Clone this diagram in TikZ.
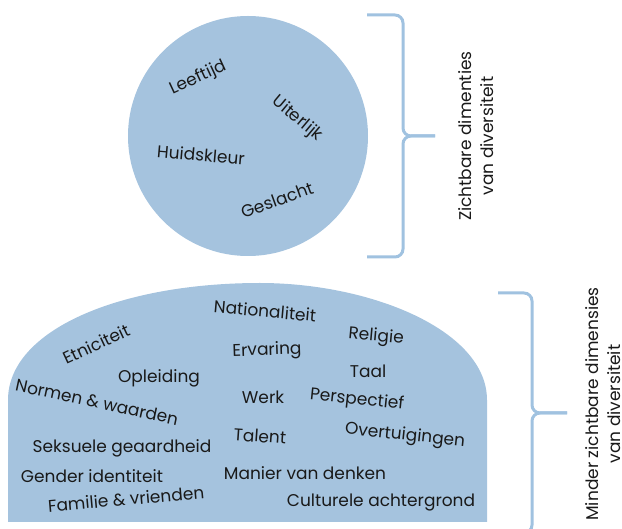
\documentclass[tikz,border=0pt]{standalone}
\usepackage{fontspec}
\setmainfont{Poppins}
\definecolor{myBlue}{RGB}{165,195,222}
\definecolor{myBrace}{RGB}{160,194,224}
\definecolor{myText}{RGB}{25,25,25}

\begin{document}
\begin{tikzpicture}[x=1pt,y=-1pt,
		word/.style={text=myText,font=\fontsize{17}{20}\selectfont,inner sep=0pt},
		side/.style={text=myText,font=\fontsize{17}{22}\selectfont,align=center,rotate=90,inner sep=0pt},
		bracket/.style={myBrace,line width=3pt,rounded corners=8pt}]
	\useasboundingbox (0,0) rectangle (622,529);
	
	% zichtbaar
	\begin{scope}
		\fill[myBlue] (248,136) circle[radius=120];
		\node[word,rotate=25] (leeftijd) at (198,78) {Leeftijd};
		\node[word,rotate=-40] (uiterlijk) at (297,119) {Uiterlijk};
		\node[word,rotate=-5] (huidskleur) at (201,155) {Huidskleur};
		\node[word,rotate=20] (geslacht) at (277,200) {Geslacht};
		\draw[bracket] (367,15) -| (403,136) -- (435,136);
		\draw[bracket] (367,257) -| (403,136) -- (435,136);
		\node[side] (zichtbaar) at (476,136) {Zichtbare dimenties\\van diversiteit};
	\end{scope}
	
	% minder zichtbaar
	\begin{scope}
		\fill[myBlue] (8,522) -- (8,400) .. controls (8,330) and (120,283) .. (260,283) .. controls (370,283) and (487,330) .. (487,400) -- (487,522) -- cycle;
		\node[word,rotate=25] (etniciteit) at (96,344) {Etniciteit};
		\node[word,rotate=-5] (nationaliteit) at (265,311) {Nationaliteit};
		\node[word,rotate=2] (ervaring) at (267,351) {Ervaring};
		\node[word,rotate=-5] (religie) at (376,337) {Religie};
		\node[word] (taal) at (368,371) {Taal};
		\node[word] (opleiding) at (159,378) {Opleiding};
		\node[word,rotate=-12] (normen) at (97,402) {Normen \& waarden};
		\node[word] (werk) at (263,397) {Werk};
		\node[word,rotate=-6] (perspectief) at (357,400) {Perspectief};
		\node[word,rotate=-4] (talent) at (260,436) {Talent};
		\node[word,rotate=-6] (overtuigingen) at (405,436) {Overtuigingen};
		\node[word] (seksuele) at (122,448) {Seksuele geaardheid};
		\node[word] (gender) at (92,476) {Gender identiteit};
		\node[word] (manier) at (305,473) {Manier van denken};
		\node[word,rotate=5] (familie) at (126,499) {Familie \& vrienden};
		\node[word] (cultuur) at (381,503) {Culturele achtergrond};
		\draw[bracket] (498,293) -| (532,413) -- (567,413);
		\draw[bracket] (498,533) -| (532,413) -- (567,413);
		\node[side] (minder) at (603,404) {Minder zichtbare dimensies\\van diversiteit};
	\end{scope}
\end{tikzpicture}
\end{document}
